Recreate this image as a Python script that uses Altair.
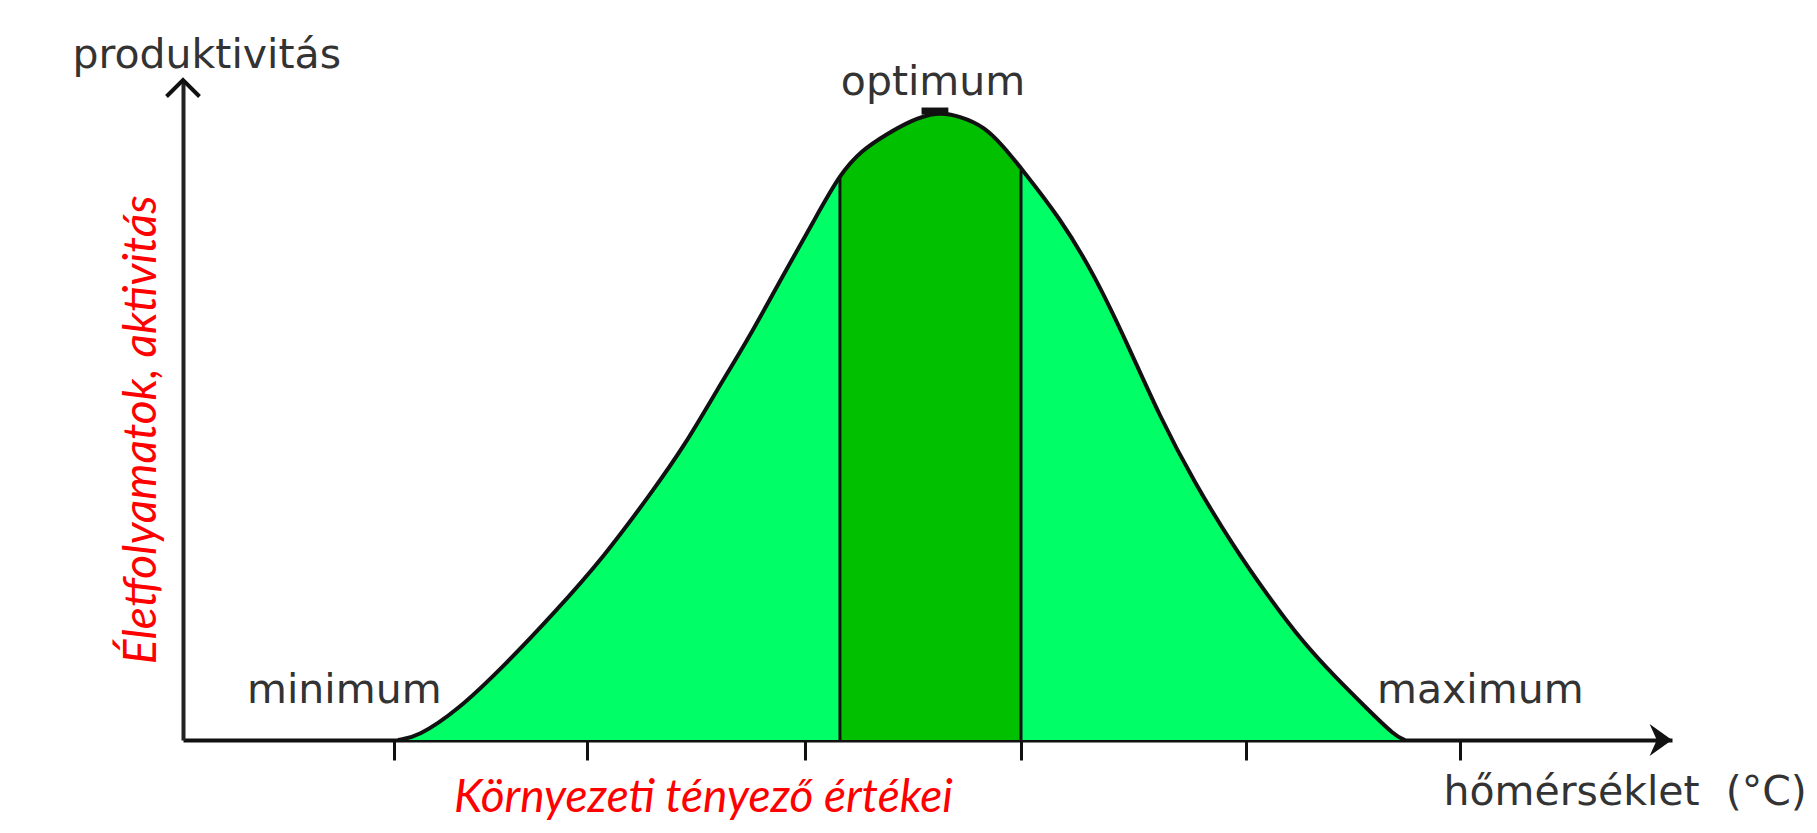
import altair as alt
import pandas as pd

# ---- data (axis units: 0-100 along each arrow) ----
curve_x = [14.44, 15.72, 18.40, 21.69, 24.92, 28.21, 31.50, 33.71, 35.86, 38.08,
           40.23, 42.44, 44.12, 45.60, 47.28, 48.82, 50.57, 52.18, 53.86, 55.07,
           56.28, 58.90, 61.18, 63.40, 65.61, 67.90, 70.58, 72.87, 75.08, 77.37,
           79.58, 81.40, 82.07]
curve_y = [0.0, 0.45, 4.39, 11.52, 19.24, 27.58, 37.58, 44.70, 53.03, 61.21,
           70.15, 78.94, 85.76, 89.39, 91.82, 93.79, 95.20, 94.55, 92.88, 90.0,
           86.67, 79.09, 70.61, 60.15, 48.94, 39.09, 29.24, 21.82, 15.15, 9.55,
           4.62, 0.61, 0.0]

# optimum band (dark green) edges
band_lo = 44.12
band_hi = 56.28

tick_x = [14.17, 27.13, 41.77, 56.28, 71.39, 85.76]

x_title = "hőmérséklet\u00a0 (°C)"
y_title = "produktivitás"

gray_labels = ["minimum", "optimum", "maximum"]
gray_label_x = [4.3, 50.37, 80.19]
gray_label_y = [5.6, 97.7, 5.6]
gray_label_align = ["left", "center", "left"]

red_x_label = "Környezeti tényező értékei"
red_y_label = "Életfolyamatok, aktivitás"

# ---- tables ----
curve_df = pd.DataFrame({"u": curve_x, "v": curve_y})
band_df = curve_df[(curve_df["u"] >= band_lo) & (curve_df["u"] <= band_hi)]
edges_df = pd.DataFrame({
    "u": [band_df["u"].iloc[0], band_df["u"].iloc[-1]],
    "v": [band_df["v"].iloc[0] - 0.4, band_df["v"].iloc[-1] - 0.4],
    "v0": [0.0, 0.0],
})
peak_df = pd.DataFrame({"u": [49.6], "u2": [51.4], "v": [95.3]})
arrow_x_df = pd.DataFrame({"u": [100.0], "v": [0.0]})
arrow_y_df = pd.DataFrame({"u": [0.0], "v": [100.0]})
labels_df = pd.DataFrame({"label": gray_labels, "u": gray_label_x,
                          "v": gray_label_y, "anchor": gray_label_align})
red_x_df = pd.DataFrame({"label": [red_x_label], "u": [18.2], "v": [-10.9]})
red_y_df = pd.DataFrame({"label": [red_y_label], "u": [-1.80], "v": [47.0]})

# ---- scales & axes ----
xscale = alt.Scale(domain=[0, 100], nice=False, zero=False)
yscale = alt.Scale(domain=[0, 100], nice=False, zero=False)

TXT = "#333333"
INK = "#111111"

xaxis = alt.Axis(values=tick_x, labels=False, grid=False,
                 domainColor=INK, domainWidth=4,
                 ticks=True, tickColor=INK, tickWidth=3, tickSize=20,
                 title=x_title, titleFont="DejaVu Sans", titleFontSize=41,
                 titleFontWeight="normal", titleColor=TXT, titleAngle=0,
                 titleAlign="left", titleBaseline="alphabetic",
                 titleX=1260, titleY=64)
yaxis = alt.Axis(labels=False, ticks=False, grid=False,
                 domainColor="#222222", domainWidth=4,
                 title=y_title, titleFont="DejaVu Sans", titleFontSize=41,
                 titleFontWeight="normal", titleColor=TXT, titleAngle=0,
                 titleAlign="left", titleBaseline="alphabetic",
                 titleX=-111, titleY=-13)

X = alt.X("u:Q", scale=xscale, axis=xaxis)
Y = alt.Y("v:Q", scale=yscale, axis=yaxis)

INTERP = "basis"

area_all = alt.Chart(curve_df).mark_area(color="#00FF66", interpolate=INTERP).encode(x=X, y=Y)
area_band = alt.Chart(band_df).mark_area(color="#00C000", interpolate=INTERP).encode(x=X, y=Y)
edges = alt.Chart(edges_df).mark_rule(color=INK, strokeWidth=3).encode(
    x=X, y=alt.Y("v0:Q", scale=yscale, axis=yaxis), y2="v:Q")
line = alt.Chart(curve_df).mark_line(color=INK, strokeWidth=4, interpolate=INTERP).encode(x=X, y=Y)
peak = alt.Chart(peak_df).mark_rule(color=INK, strokeWidth=7).encode(x=X, x2="u2:Q", y=Y)

arrow_x = alt.Chart(arrow_x_df).mark_point(
    shape="M0,0L-1.4,-1L-0.95,0L-1.4,1Z", size=1024, filled=True,
    color=INK, opacity=1, strokeWidth=1).encode(x=X, y=Y)
arrow_y = alt.Chart(arrow_y_df).mark_point(
    shape="M-1,1L0,0L1,1", size=1089, filled=False,
    color=INK, opacity=1, strokeWidth=4).encode(x=X, y=Y)

labels_left = alt.Chart(labels_df[labels_df["anchor"] == "left"]).mark_text(
    font="DejaVu Sans", fontSize=41, color=TXT, align="left", baseline="alphabetic").encode(
    x=X, y=Y, text="label:N")
labels_center = alt.Chart(labels_df[labels_df["anchor"] == "center"]).mark_text(
    font="DejaVu Sans", fontSize=41, color=TXT, align="center", baseline="alphabetic").encode(
    x=X, y=Y, text="label:N")

red_x = alt.Chart(red_x_df).mark_text(
    font="Lato", fontStyle="italic", fontSize=46, color="#FF0000",
    align="left", baseline="alphabetic").encode(x=X, y=Y, text="label:N")
red_y = alt.Chart(red_y_df).mark_text(
    font="Lato", fontStyle="italic", fontSize=46, color="#FF0000",
    align="center", baseline="alphabetic", angle=270).encode(x=X, y=Y, text="label:N")

chart = alt.layer(
    area_all, area_band, edges, line, peak, arrow_x, arrow_y,
    labels_left, labels_center, red_x, red_y
).properties(
    width=1489, height=660,
    autosize=alt.AutoSizeParams(type="none"),
    padding={"left": 175, "top": 72, "right": 137, "bottom": 84},
    background="white",
).configure_view(stroke=None)

chart.save("out.html", embed_options={"renderer": "svg", "actions": False})
